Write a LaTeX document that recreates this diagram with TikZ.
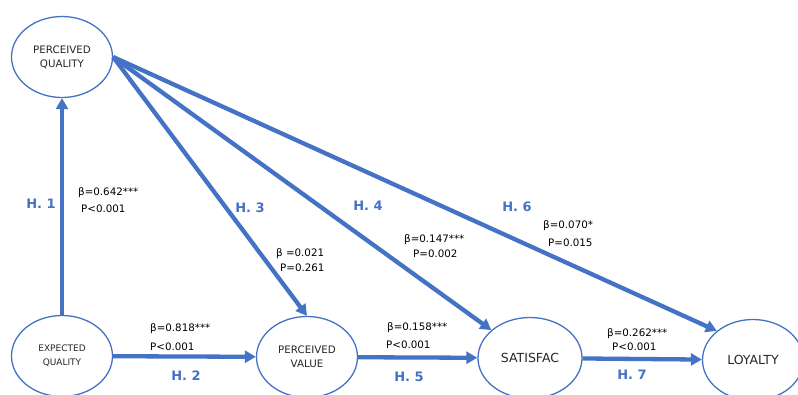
\documentclass[tikz,border=0pt]{standalone}
\usepackage{fontspec}
\setmainfont{DejaVu Sans}
\usetikzlibrary{shapes.geometric,arrows.meta}
\definecolor{hblue}{HTML}{4472C4}
\definecolor{txtgray}{HTML}{262626}
\begin{document}
\begin{tikzpicture}[x=1pt,y=-1pt]
	\tikzstyle{construct} =[draw=hblue, line width=1.3pt, ellipse, minimum width=101pt, minimum height=81pt, inner sep=0pt, align=center, text=txtgray, font=\fontsize{10.3}{14}\selectfont];
	\tikzstyle{link} =[->, >={Triangle[length=11pt,width=12pt]}, draw=hblue, line width=4.3pt];
	\tikzstyle{hyp} =[text=hblue, inner sep=0pt, font=\fontsize{13}{14}\selectfont\bfseries];
	\tikzstyle{coef} =[anchor=west, inner sep=0pt, text=black, font=\fontsize{10.3}{11}\selectfont];
	\useasboundingbox (0,0) rectangle (798,394);

	\node[construct] (pq) at (62,57) {PERCEIVED\\QUALITY};
	\node[construct, font=\fontsize{9}{14}\selectfont] (eq) at (62,356) {EXPECTED\\QUALITY};
	\node[construct] (pv) at (307,357) {PERCEIVED\\VALUE};
	\node[construct, minimum width=104pt, font=\fontsize{12.5}{14}\selectfont] (sat) at (530,358) {SATISFAC};
	\node[construct, font=\fontsize{12.5}{14}\selectfont] (loy) at (753,360) {LOYALTY};

	\draw[link] (eq) -- (pq);
	\draw[link] (eq) -- (pv);
	\draw[link] (pq.east) -- (pv.north);
	\draw[link] (pq.east) -- (sat);
	\draw[link] (pq.east) -- (loy.north west);
	\draw[link] (pv) -- (sat);
	\draw[link] (sat) -- (loy);

	\node[hyp] (h1) at (41,204) {H. 1};
	\node[hyp] (h2) at (186,376) {H. 2};
	\node[hyp] (h3) at (250,208) {H. 3};
	\node[hyp] (h4) at (368,206) {H. 4};
	\node[hyp] (h5) at (409,377) {H. 5};
	\node[hyp] (h6) at (517,207) {H. 6};
	\node[hyp] (h7) at (632,375) {H. 7};

	\node[coef] (b1) at (78,193) {β=0.642***};
	\node[coef] (p1) at (81,209) {P<0.001};
	\node[coef] (b2) at (150,329) {β=0.818***};
	\node[coef] (p2) at (150,347) {P<0.001};
	\node[coef] (b3) at (276,254) {β =0.021};
	\node[coef] (p3) at (280,268) {P=0.261};
	\node[coef] (b4) at (404,240) {β=0.147***};
	\node[coef] (p4) at (413,254) {P=0.002};
	\node[coef] (b5) at (387,328) {β=0.158***};
	\node[coef] (p5) at (386,345) {P<0.001};
	\node[coef] (b6) at (543,226) {β=0.070*};
	\node[coef] (p6) at (548,243) {P=0.015};
	\node[coef] (b7) at (607,334) {β=0.262***};
	\node[coef] (p7) at (612,347) {P<0.001};
\end{tikzpicture}
\end{document}
